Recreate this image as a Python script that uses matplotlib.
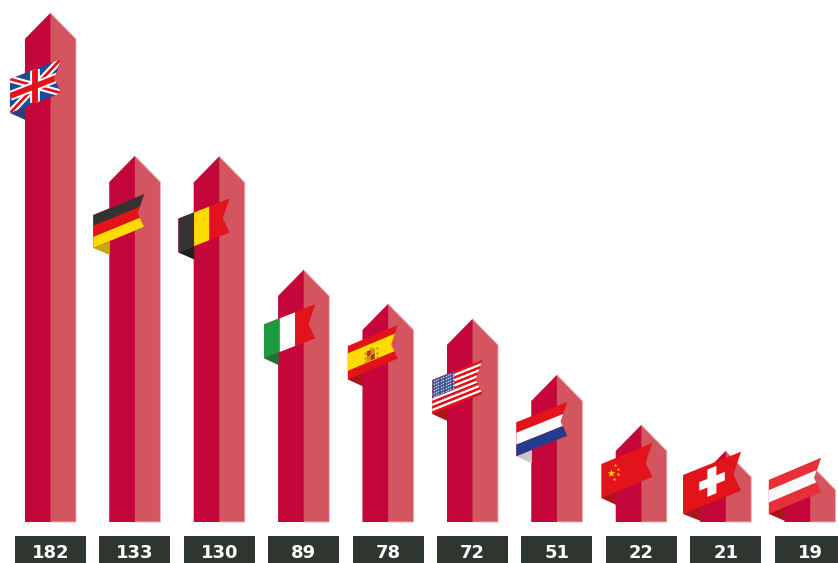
import numpy as np
import matplotlib
matplotlib.use("Agg")
import matplotlib.pyplot as plt
from matplotlib.patches import Polygon, Rectangle
from matplotlib.transforms import Affine2D

# Chart data
countries = ["UK", "Germany", "Belgium", "Italy", "Spain", "USA",
             "Netherlands", "China", "Switzerland", "Austria"]
values = [182, 133, 130, 89, 78, 72, 51, 22, 21, 19]

# The y axis is piecewise: small counts are stretched so the flags still fit
scale_values = [0, 19, 21, 22, 51, 72, 78, 89, 130, 133, 182, 200]
scale_heights = [0, 58, 71, 97, 147, 203, 218, 252, 365.5, 366, 509, 522]

# Styling
W, H = 838, 563
BASELINE = 522
LEFT_FACE = "#C4063A"
RIGHT_FACE = "#D2555F"
EDGE = "#EBB0B6"
BOX = "#2F352F"
RED = "#E3131B"
YELLOW = "#FFDC00"
DARK = "#333333"
NAVY = "#253B8E"
FOLD_RED = "#A8161A"

HALF_WIDTH = 25.5
SHOULDER = 26
BOX_HALF = 35.5

# Flag placement relative to each arrow tip: dx, dy, width, height, rise
flag_layout = [
    (-40.5, 66, 51, 34, 20), (-41.7, 59, 51, 33, 21), (-41, 62, 51, 34, 20),
    (-39.7, 54.3, 51, 34, 20), (-40.3, 42, 50, 33.5, 21), (-40.3, 61, 50, 34, 20),
    (-40.7, 47.3, 51, 34, 20.5), (-40, 39, 51, 34, 21), (-42.7, 24, 58, 39, 23.3),
    (-41.3, 16, 52, 34, 22),
]
fold_colors = ["#2B3F7E", "#C4A800", "#1E1E1E", "#1E7433", FOLD_RED,
               FOLD_RED, "#C8C8C8", FOLD_RED, FOLD_RED, FOLD_RED]

fig = plt.figure(figsize=(W / 100, H / 100), dpi=100, facecolor="white")
ax = fig.add_axes([0, (H - BASELINE) / H, 1, BASELINE / H])
ax.set_yscale("function", functions=(
    lambda v: np.interp(v, scale_values, scale_heights),
    lambda h: np.interp(h, scale_heights, scale_values),
))
ax.set_ylim(0, 200)
ax.set_xlim(-0.598, 9.33)
ax.axis("off")

# Everything decorative is laid out in pixels measured from the top-left corner
px = Affine2D().scale(1, -1).translate(0, H)


def add_poly(points, color, zorder=2, clip=None, **kw):
    patch = Polygon(points, closed=True, facecolor=color, edgecolor="none",
                    transform=px, clip_on=False, zorder=zorder, **kw)
    ax.add_patch(patch)
    if clip is not None:
        patch.set_clip_on(True)
        patch.set_clip_path(clip)
    return patch


class Flag:
    """A ribbon flag sheared upward to the right with a swallowtail end."""

    def __init__(self, x, y, w, h, rise, fold, zorder, fold_to):
        self.x, self.y, self.w, self.h, self.rise = x, y, w, h, rise
        self.z = zorder
        bottom = y + h
        # The shaded fold runs from the flag's lower corner back to the arrow
        add_poly([(x, bottom), (fold_to + 0.5, bottom + 7), (fold_to + 0.5, bottom - 10)],
                 fold, zorder)
        outline = [self.at(0, 0), self.at(1, 0), self.at(0.87, 0.5),
                   self.at(1, 1), self.at(0, 1)]
        self.outline = add_poly(outline, RED, zorder + 0.1)

    def at(self, u, v):
        return (self.x + u * self.w, self.y - u * self.rise + v * self.h)

    def band(self, u0, u1, v0, v1, color):
        pts = [self.at(u0, v0), self.at(u1, v0), self.at(u1, v1), self.at(u0, v1)]
        add_poly(pts, color, self.z + 0.2, clip=self.outline)

    def stroke(self, start, end, color, width):
        x, y = zip(self.at(*start), self.at(*end))
        line, = ax.plot(x, y, color=color, lw=width, transform=px,
                        solid_capstyle="butt", zorder=self.z + 0.3)
        line.set_clip_path(self.outline)

    def dots(self, us, vs, color, size, marker="o"):
        pts = np.array([self.at(u, v) for u, v in zip(us, vs)])
        ax.scatter(pts[:, 0], pts[:, 1], s=size, color=color, marker=marker,
                   linewidths=0, transform=px, zorder=self.z + 0.4, clip_on=False)


def paint_uk(f):
    f.band(0, 1, 0, 1, "#1C4A9C")
    for a, b in (((0, 0), (1, 1)), ((0, 1), (1, 0))):
        f.stroke(a, b, "white", 5.0)
        f.stroke(a, b, RED, 2.0)
    f.stroke((0.5, 0), (0.5, 1), "white", 7.0)
    f.stroke((0, 0.5), (1, 0.5), "white", 7.0)
    f.stroke((0.5, 0), (0.5, 1), RED, 4.2)
    f.stroke((0, 0.5), (1, 0.5), RED, 4.2)


def paint_germany(f):
    f.band(0, 1, 0, 1 / 3, DARK)
    f.band(0, 1, 1 / 3, 2 / 3, RED)
    f.band(0, 1, 2 / 3, 1, YELLOW)


def paint_belgium(f):
    f.band(0, 0.31, 0, 1, DARK)
    f.band(0.31, 0.61, 0, 1, YELLOW)
    f.band(0.61, 1, 0, 1, RED)


def paint_italy(f):
    f.band(0, 0.31, 0, 1, "#1B9A3E")
    f.band(0.31, 0.61, 0, 1, "white")
    f.band(0.61, 1, 0, 1, RED)


def paint_spain(f):
    f.band(0, 1, 0.22, 0.74, YELLOW)
    f.band(0.38, 0.46, 0.4, 0.56, "#B5301A")
    f.band(0.46, 0.54, 0.4, 0.56, "#D08A20")
    f.band(0.38, 0.46, 0.56, 0.72, "#D08A20")
    f.band(0.46, 0.54, 0.56, 0.72, "#B5301A")
    f.dots([0.34, 0.34, 0.34, 0.58, 0.58, 0.58, 0.46],
           [0.42, 0.56, 0.7, 0.42, 0.56, 0.7, 0.34], "#D9861E", 3)


def paint_usa(f):
    for k in range(13):
        f.band(0, 1, k / 13, (k + 1) / 13, RED if k % 2 == 0 else "white")
    f.band(0, 0.44, 0, 7 / 13, "#3A4F90")
    us, vs = np.meshgrid(np.linspace(0.03, 0.41, 9), np.linspace(0.05, 0.49, 6))
    f.dots(us.ravel(), vs.ravel(), "#C9D2E8", 1.3)


def paint_netherlands(f):
    f.band(0, 1, 0.31, 0.66, "white")
    f.band(0, 1, 0.66, 1, NAVY)


def paint_china(f):
    f.dots([0.18], [0.37], YELLOW, 34, "*")
    f.dots([0.26, 0.33, 0.33, 0.25], [0.19, 0.36, 0.5, 0.61], YELLOW, 7, "*")


def paint_switzerland(f):
    f.band(0.28, 0.72, 0.35, 0.57, "white")
    f.band(0.42, 0.575, 0.11, 0.81, "white")


def paint_austria(f):
    f.band(0, 1, 0, 1, "#E8303A")
    f.band(0, 1, 0.3, 0.66, "#FAFAFA")


painters = [paint_uk, paint_germany, paint_belgium, paint_italy, paint_spain,
            paint_usa, paint_netherlands, paint_china, paint_switzerland,
            paint_austria]

fig.canvas.draw()
for i, (country, value) in enumerate(zip(countries, values)):
    cx, tip_disp = ax.transData.transform((i, value))
    tip = H - tip_disp
    left, right = cx - HALF_WIDTH, cx + HALF_WIDTH
    z = 2 + i

    # Two-tone arrow body: the lighter pentagon sits under the darker half
    add_poly([(left, BASELINE), (left, tip + SHOULDER), (cx, tip),
              (right, tip + SHOULDER), (right, BASELINE)], RIGHT_FACE, z)
    add_poly([(left, BASELINE), (left, tip + SHOULDER), (cx, tip), (cx, BASELINE)],
             LEFT_FACE, z + 0.05)
    ax.plot([cx, right, right, cx], [tip, tip + SHOULDER, BASELINE, BASELINE],
            color=EDGE, lw=0.6, transform=px, zorder=z, clip_on=False)

    # Flag ribbon
    dx, dy, fw, fh, rise = flag_layout[i]
    painters[i](Flag(cx + dx, tip + dy, fw, fh, rise, fold_colors[i], z + 0.2, left))

    # Value label
    ax.add_patch(Rectangle((cx - BOX_HALF, 536), 2 * BOX_HALF, 27, facecolor=BOX,
                           edgecolor="none", transform=px, clip_on=False, zorder=20))
    ax.text(cx, 552.5, str(value), transform=px, ha="center", va="center",
            color="white", fontsize=13, fontweight="bold",
            family="DejaVu Sans", zorder=21, clip_on=False)

fig.savefig("out.png", dpi=100, facecolor="white")
